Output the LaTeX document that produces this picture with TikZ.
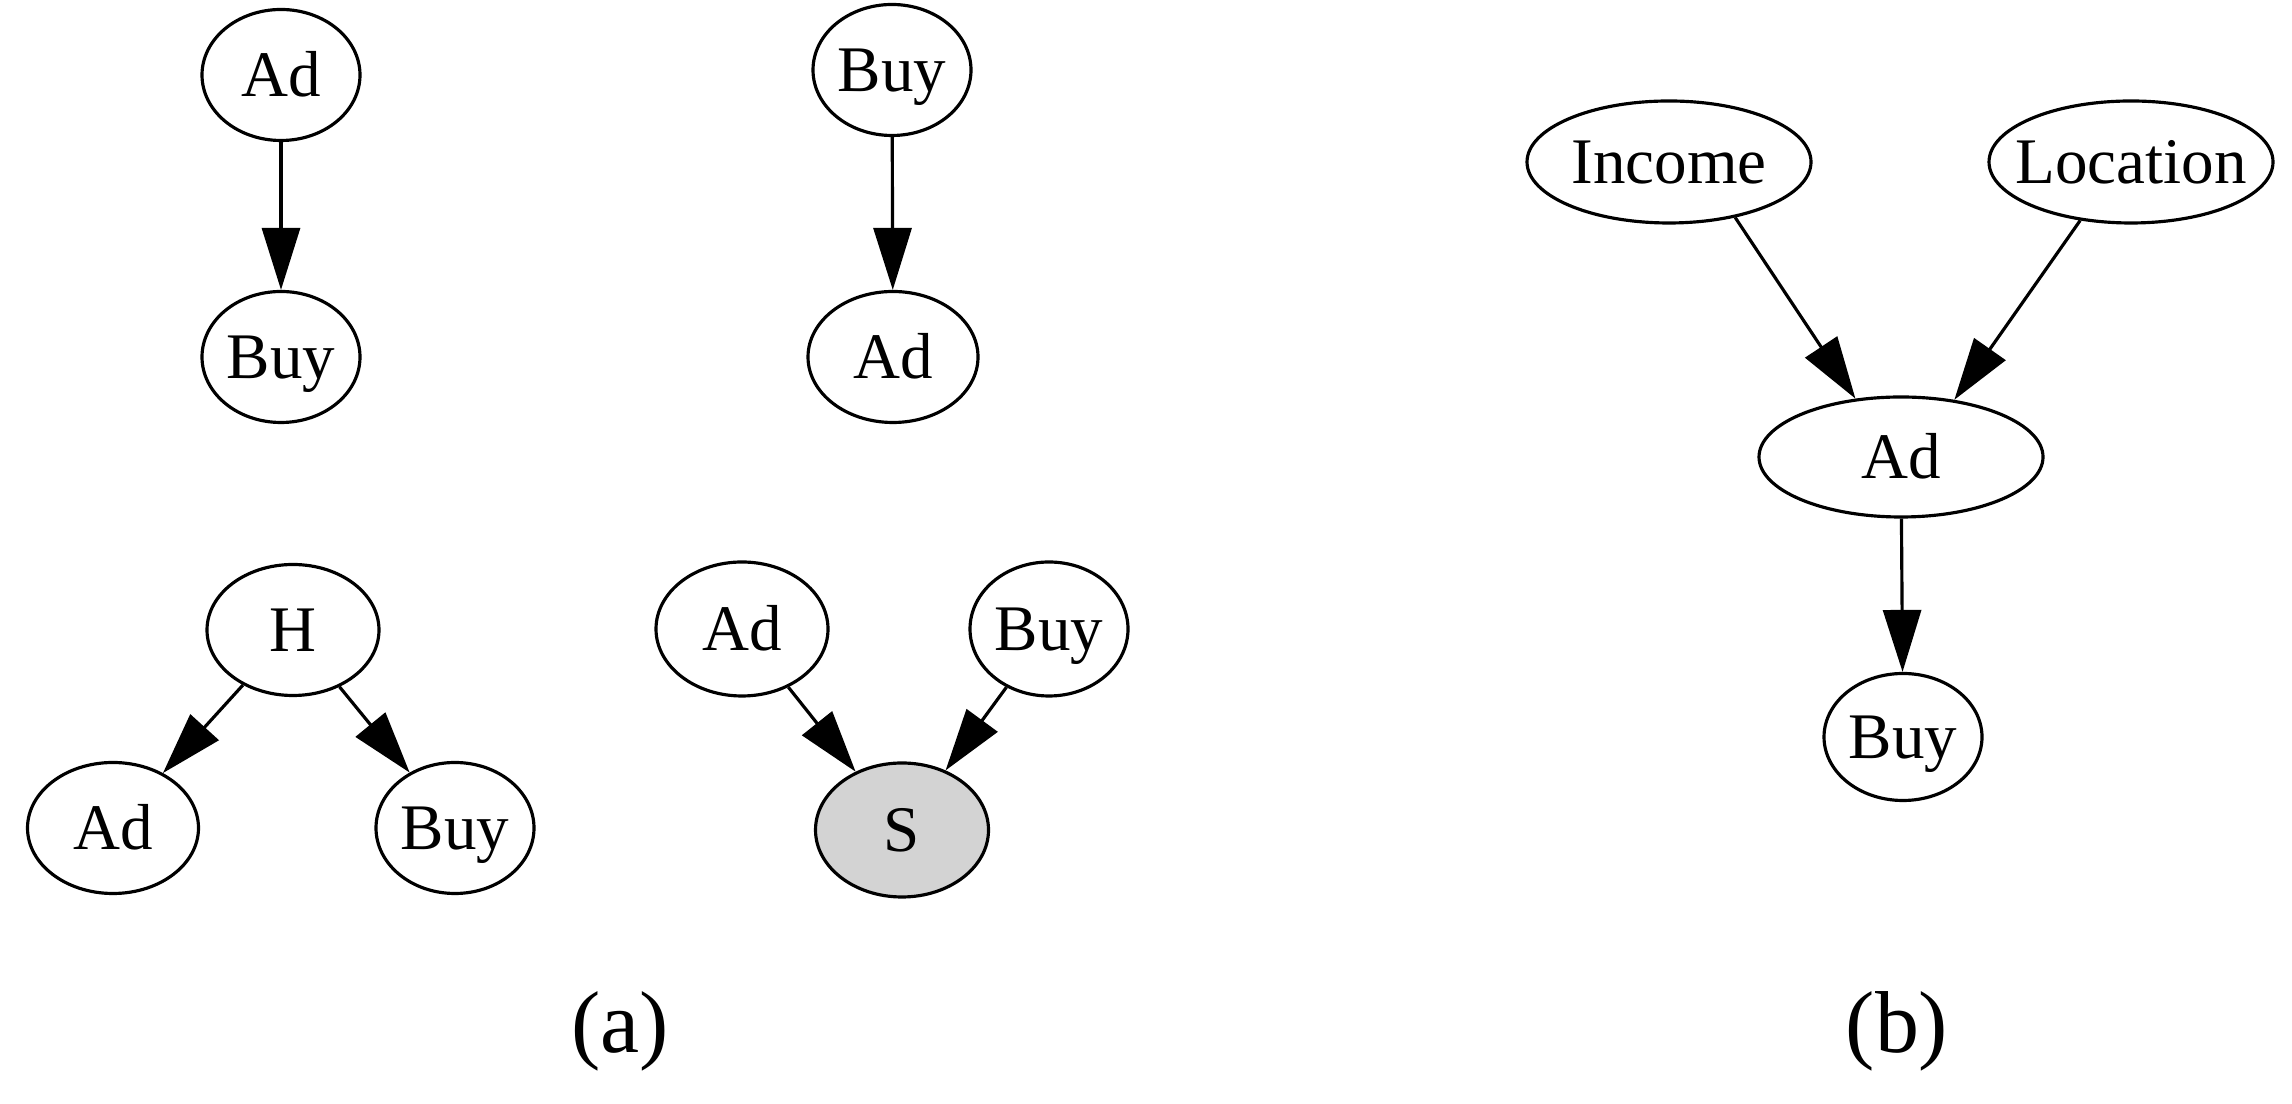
\documentclass[tikz,border=0pt]{standalone}
\usepackage{fontspec}
\setmainfont{Liberation Serif}
\usetikzlibrary{shapes.geometric,arrows.meta}
\begin{document}
\begin{tikzpicture}[
  var/.style={ellipse, draw, line width=0.9pt, inner sep=0pt,
    minimum width=1.58cm, minimum height=1.31cm,
    text height=12.2pt, text depth=0pt,
    font=\fontsize{18.5}{22}\selectfont},
  widevar/.style={var, minimum width=2.84cm, minimum height=1.22cm},
  obs/.style={var, fill={rgb,255:red,211;green,211;blue,211}},
  arr/.style={-{Triangle[length=0.62cm,width=0.38cm]}, line width=0.9pt},
  sublabel/.style={font=\fontsize{25}{30}\selectfont}
]
\useasboundingbox (0,0) rectangle (22.92,-11.04);

% (a) Ad -> Buy
\node[var] (ad1) at (2.81,-0.75) {Ad};
\node[var] (buy1) at (2.81,-3.57) {Buy};
\draw[arr] (ad1) -- (buy1);

% (a) Buy -> Ad
\node[var] (buy2) at (8.92,-0.70) {Buy};
\node[var, minimum width=1.70cm] (ad2) at (8.93,-3.57) {Ad};
\draw[arr] (buy2) -- (ad2);

% (a) common cause
\node[var, minimum width=1.72cm] (h) at (2.93,-6.30) {H};
\node[var, minimum width=1.71cm] (ad3) at (1.13,-8.28) {Ad};
\node[var] (buy3) at (4.55,-8.28) {Buy};
\draw[arr] (h) -- (ad3);
\draw[arr] (h) -- (buy3);

% (a) selection
\node[var, minimum width=1.72cm, minimum height=1.34cm] (ad4) at (7.42,-6.29) {Ad};
\node[var, minimum height=1.34cm] (buy4) at (10.49,-6.29) {Buy};
\node[obs, minimum width=1.73cm, minimum height=1.34cm] (s) at (9.02,-8.30) {S};
\draw[arr] (ad4) -- (s);
\draw[arr] (buy4) -- (s);

\node[sublabel] (capa) at (6.20,-10.31) {(a)};

% (b)
\node[widevar] (inc) at (16.69,-1.62) {Income};
\node[widevar] (loc) at (21.31,-1.62) {\makebox[0pt]{Location}};
\node[widevar, minimum height=1.20cm] (ad5) at (19.01,-4.57) {Ad};
\node[var, minimum height=1.27cm] (buy5) at (19.03,-7.37) {Buy};
\draw[arr] (inc.-40) -- (ad5.128);
\draw[arr] (loc.229) -- (ad5.47);
\draw[arr] (ad5) -- (buy5);

\node[sublabel] (capb) at (18.97,-10.31) {(b)};
\end{tikzpicture}
\end{document}
